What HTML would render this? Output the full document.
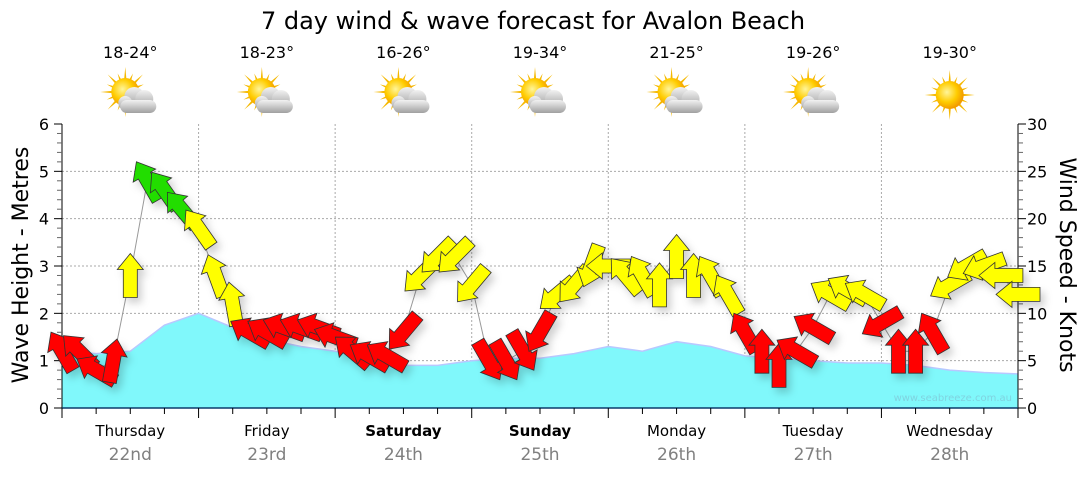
<!DOCTYPE html>
<html><head><meta charset="utf-8"><style>
body{margin:0;background:#fff;font-family:"Liberation Sans","DejaVu Sans",sans-serif}
svg text{font-family:"DejaVu Sans","Liberation Sans",sans-serif}
</style></head><body>
<svg id="c" width="1080" height="475" viewBox="0 0 1080 475">
<defs>
<radialGradient id="sunG" cx="0.4" cy="0.4" r="0.6"><stop offset="0" stop-color="#fff59a"/><stop offset="0.6" stop-color="#ffcc00"/><stop offset="1" stop-color="#f29a00"/></radialGradient>
<linearGradient id="cloudG" x1="0" y1="0" x2="0" y2="1"><stop offset="0" stop-color="#f2f2f2"/><stop offset="1" stop-color="#a0a0a0"/></linearGradient>
<filter id="sh" x="-50%" y="-50%" width="200%" height="200%"><feDropShadow dx="4" dy="5" stdDeviation="4" flood-color="#000" flood-opacity="0.18"/></filter>
</defs>
<g id="grid"></g>
<g id="wave"></g>
<g id="axes"></g>
<g id="windline"></g>
<g id="arrows" filter="url(#sh)"></g>
<g id="top"></g>
</svg>
<script>
const dayNames=["Thursday","Friday","Saturday","Sunday","Monday","Tuesday","Wednesday"];
const dayDates=["22nd","23rd","24th","25th","26th","27th","28th"];
const temps=["18-24°","18-23°","16-26°","19-34°","21-25°","19-26°","19-30°"];
const cloudy=[1,1,1,1,1,1,0];
const waveHeights=[1.2,1.15,1.2,1.75,2.0,1.7,1.45,1.3,1.2,1.0,0.9,0.9,1.0,1.05,1.05,1.15,1.3,1.2,1.4,1.3,1.1,1.05,1.0,0.95,0.95,0.9,0.8,0.75,0.72];
const windSpeeds=[6,6,4,5,14,24,23,21,19,14,11,8,8,8.5,8.5,8.5,7.5,6,5.5,5.5,8,14,16,16,13,5,5,6,8,12,13,15,15,14,14,13,16,14,14,12,8,6,4.5,6,8.5,12,12.5,12,9,6,6,8,13,15,15,14,12];
const windDirs=[330,315,300,10,0,330,325,320,325,340,350,300,300,290,290,290,290,310,300,300,220,225,225,225,220,150,150,150,210,230,220,200,270,320,330,0,0,0,330,330,330,0,0,300,300,300,300,300,240,0,0,330,240,240,250,270,270];
const yTicksM=[0,1,2,3,4,5,6];
const yTicksKn=[0,5,10,15,20,25,30];

const NS="http://www.w3.org/2000/svg";
const X0=62,X1=1018,Y0=408,Y6=124;
const dayW=(X1-X0)/7;
const xDay=d=>X0+d*dayW;
const xWave=i=>X0+(X1-X0)*i/(waveHeights.length-1);
const xWind=i=>X0+(X1-X0)*i/(windSpeeds.length-1);
const yM=m=>Y0-(Y0-Y6)*m/6;
const yKn=k=>Y0-(Y0-Y6)*k/30;
function el(tag,attrs,parent,text){const e=document.createElementNS(NS,tag);for(const k in attrs)e.setAttribute(k,attrs[k]);if(text!=null)e.textContent=text;document.getElementById(parent).appendChild(e);return e;}

yTicksM.forEach(m=>{if(m>0&&m<6){const g=el('line',{x1:X0,x2:X1,y1:yM(m),y2:yM(m),stroke:'#aaa','stroke-dasharray':'2,2'},'grid');

}});
for(let d=1;d<7;d++){const g=el('line',{x1:xDay(d),x2:xDay(d),y1:Y6,y2:Y0,stroke:'#aaa','stroke-dasharray':'2,2'},'grid');

}

let p='M'+X0+','+Y0;waveHeights.forEach((h,i)=>p+=' L'+xWave(i).toFixed(1)+','+yM(h).toFixed(1));p+=' L'+X1+','+Y0+' Z';
const wa=el('path',{d:p,fill:'#80f8fb',stroke:'none'},'wave');


let pl='';waveHeights.forEach((h,i)=>pl+=(i?' L':'M')+xWave(i).toFixed(1)+','+yM(h).toFixed(1));
const wl=el('path',{d:pl,fill:'none',stroke:'#b8c8ff','stroke-width':1.5},'wave');


const wm=el('text',{x:1012,y:401,'font-size':10,fill:'#7fd3e0','text-anchor':'end'},'wave','www.seabreeze.com.au');



el('line',{x1:X0,x2:X0,y1:Y6,y2:Y0+1,stroke:'#000'},'axes');
el('line',{x1:X1,x2:X1,y1:Y6,y2:Y0+1,stroke:'#000'},'axes');
el('line',{x1:X0,x2:X1,y1:Y0,y2:Y0,stroke:'#0b3a6a','stroke-width':1.5},'axes');
for(let i=0;i<=30;i++){const y=yM(i/5);el('line',{x1:i%5?X0-5:X0-8,x2:X0,y1:y,y2:y,stroke:i%5?'#666':'#000'},'axes');}
for(let i=0;i<=30;i++){const y=yKn(i);el('line',{x1:X1,x2:i%5?X1+5:X1+8,y1:y,y2:y,stroke:i%5?'#666':'#000'},'axes');}
yTicksM.forEach(m=>{const t=el('text',{x:X0-13,y:yM(m)+6,'font-size':16,'text-anchor':'end'},'axes',m);

});
yTicksKn.forEach(k=>{const t=el('text',{x:X1+9,y:yKn(k)+6,'font-size':16},'axes',k);

});
for(let i=0;i<=28;i++){const x=X0+(X1-X0)*i/28;el('line',{x1:x,x2:x,y1:Y0,y2:Y0+(i%4?6:10),stroke:'#000'},'axes');}
const lt=el('text',{transform:'translate(28,265) rotate(-90)','font-size':22,'text-anchor':'middle'},'axes','Wave Height - Metres');


const rt=el('text',{transform:'translate(1060,265) rotate(90)','font-size':22,'text-anchor':'middle'},'axes','Wind Speed - Knots');


dayNames.forEach((n,d)=>{const cx=xDay(d)+dayW/2;
const a=el('text',{x:cx,y:436,'font-size':15,'text-anchor':'middle','font-weight':(d==2||d==3)?'bold':'normal'},'axes',n);


const b=el('text',{x:cx,y:460,'font-size':17,'text-anchor':'middle',fill:'#808080'},'axes',dayDates[d]);


const t=el('text',{x:cx,y:58,'font-size':16,'text-anchor':'middle'},'top',temps[d]);


const g=el('g',{transform:'translate('+cx+',95)'},'top');


let rays='';const sx=cloudy[d]?-5:0,sy=cloudy[d]?-3:0;
for(let r=0;r<16;r++){const an=r*Math.PI/8,L=r%2?20:25;rays+=`<polygon points="${sx+Math.cos(an-0.12)*11},${sy+Math.sin(an-0.12)*11} ${sx+Math.cos(an)*L},${sy+Math.sin(an)*L} ${sx+Math.cos(an+0.12)*11},${sy+Math.sin(an+0.12)*11}" fill="#f5b800"/>`;}
g.innerHTML=rays+`<circle cx="${sx}" cy="${sy}" r="14" fill="url(#sunG)"/>`+(cloudy[d]?`<g fill="url(#cloudG)"><circle cx="4" cy="2" r="10"/><circle cx="14" cy="4" r="9"/><circle cx="-5" cy="8" r="7"/><rect x="-10" y="5" width="36" height="13" rx="6.5"/></g>`:'');
});
const ti=el('text',{x:533,y:29,'font-size':24,'text-anchor':'middle'},'top','7 day wind & wave forecast for Avalon Beach');



let wp='';windSpeeds.forEach((s,i)=>wp+=(i?' L':'M')+xWind(i).toFixed(1)+','+yKn(s).toFixed(1));
const wln=el('path',{d:wp,fill:'none',stroke:'#999','stroke-width':1},'windline');


windSpeeds.forEach((s,i)=>{const col=s>=20?'#22dd00':s>=10?'#ffff00':'#ff0000';
const a=el('polygon',{points:'0,-22 13,-6 7,-6 7,22 -7,22 -7,-6 -13,-6',fill:col,stroke:'#333','stroke-width':0.8,
transform:`translate(${xWind(i).toFixed(1)},${yKn(s).toFixed(1)}) rotate(${windDirs[i]})`},'arrows');

});
</script>
</body></html>
